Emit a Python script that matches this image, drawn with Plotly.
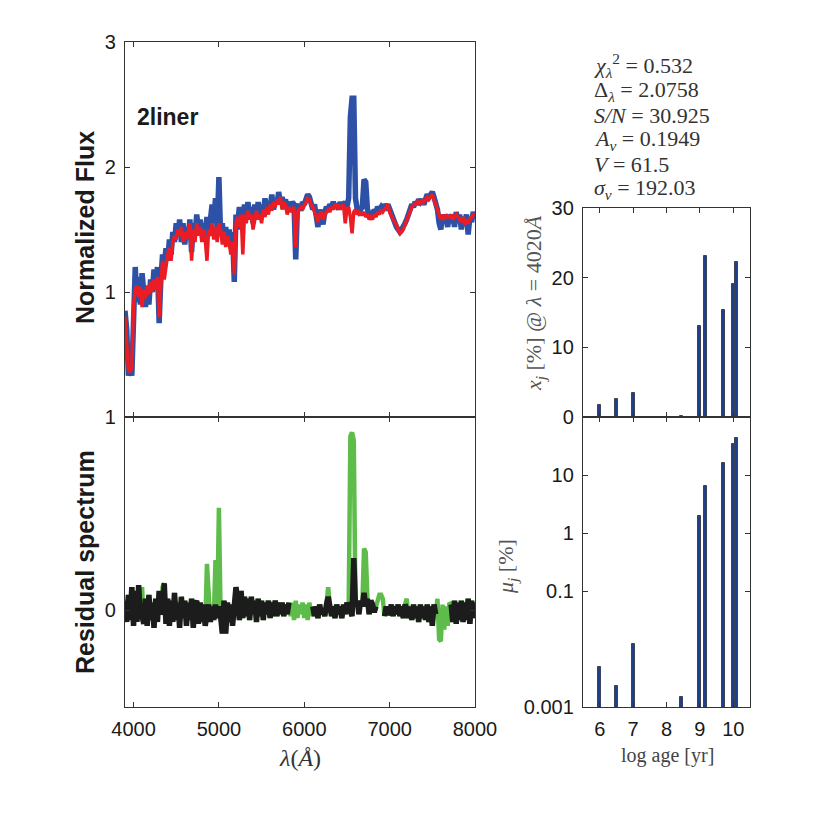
import numpy as np
import plotly.graph_objects as go

# ---------------- data ----------------
wavelength = list(range(3900, 8001, 20))  # 206 samples

flux_observed = [
    0.85, 0.70, 0.33, 0.40, 0.33, 0.95, 1.20, 0.92, 1.12, 0.90,   # 3900
    1.15, 1.00, 0.88, 1.05, 0.90, 1.10, 1.00, 1.18, 1.05, 1.20,   # 4100
    0.75, 1.10, 1.30, 1.22, 1.35, 1.25, 1.42, 1.30, 1.48, 1.40,   # 4300
    1.55, 1.45, 1.58, 1.40, 1.55, 1.38, 1.52, 1.42, 1.58, 1.32,   # 4500
    1.55, 1.45, 1.62, 1.50, 1.58, 1.45, 1.55, 1.48, 1.60, 1.45,   # 4700
    1.62, 1.70, 1.55, 1.75, 1.50, 1.92, 1.45, 1.55, 1.40, 1.52,   # 4900
    1.38, 1.50, 1.35, 1.48, 1.08, 1.62, 1.55, 1.68, 1.50, 1.58,   # 5100
    1.70, 1.62, 1.72, 1.60, 1.68, 1.55, 1.70, 1.62, 1.72, 1.60,   # 5300
    1.70, 1.62, 1.75, 1.65, 1.72, 1.68, 1.78, 1.66, 1.75, 1.70,   # 5500
    1.80, 1.72, 1.76, 1.70, 1.74, 1.66, 1.72, 1.68, 1.72, 1.70,   # 5700
    1.26, 1.68, 1.70, 1.65, 1.72, 1.70, 1.74, 1.78, 1.76, 1.72,   # 5900
    1.66, 1.70, 1.62, 1.52, 1.66, 1.60, 1.54, 1.64, 1.68, 1.66,   # 6100
    1.70, 1.68, 1.72, 1.68, 1.70, 1.66, 1.72, 1.68, 1.70, 1.72,   # 6300
    1.68, 1.75, 2.40, 2.55, 2.55, 1.75, 1.66, 1.64, 1.66, 1.68,   # 6500
    1.90, 1.88, 1.66, 1.62, 1.64, 1.60, 1.66, 1.64, 1.68, 1.66,   # 6700
    1.68, 1.66, 1.70, 1.68, 1.70, 1.66, 1.62, 1.58, 1.55, 1.52,   # 6900
    1.50, 1.48, 1.50, 1.52, 1.55, 1.58, 1.62, 1.66, 1.70, 1.68,   # 7100
    1.72, 1.70, 1.74, 1.72, 1.74, 1.70, 1.76, 1.78, 1.76, 1.78,   # 7300
    1.80, 1.76, 1.72, 1.66, 1.55, 1.50, 1.62, 1.55, 1.60, 1.52,   # 7500
    1.62, 1.55, 1.62, 1.52, 1.64, 1.56, 1.62, 1.50, 1.60, 1.55,   # 7700
    1.62, 1.46, 1.60, 1.56, 1.64, 1.60,                           # 7900
]

flux_model = [
    0.80, 0.62, 0.38, 0.36, 0.40, 0.90, 1.02, 1.05, 0.96, 1.04,
    0.88, 1.02, 0.95, 1.05, 0.98, 1.08, 1.00, 1.10, 1.02, 1.12,
    0.80, 1.05, 1.25, 1.10, 1.22, 1.30, 1.35, 1.25, 1.40, 1.45,
    1.42, 1.50, 1.45, 1.52, 1.40, 1.48, 1.42, 1.50, 1.55, 1.25,
    1.50, 1.40, 1.55, 1.45, 1.52, 1.40, 1.50, 1.42, 1.25, 1.50,
    1.45, 1.55, 1.42, 1.52, 1.40, 1.55, 1.50, 1.38, 1.48, 1.36,
    1.45, 1.40, 1.30, 1.40, 1.14, 1.55, 1.60, 1.52, 1.62, 1.30,
    1.62, 1.55, 1.65, 1.58, 1.62, 1.50, 1.60, 1.65, 1.58, 1.62,
    1.55, 1.66, 1.60, 1.68, 1.62, 1.70, 1.65, 1.72, 1.68, 1.74,
    1.70, 1.76, 1.66, 1.72, 1.70, 1.62, 1.68, 1.64, 1.66, 1.68,
    1.36, 1.64, 1.66, 1.68, 1.66, 1.70, 1.72, 1.75, 1.74, 1.70,
    1.68, 1.64, 1.60, 1.56, 1.62, 1.64, 1.58, 1.62, 1.64, 1.66,
    1.64, 1.68, 1.66, 1.70, 1.68, 1.70, 1.66, 1.68, 1.70, 1.55,
    1.66, 1.68, 1.60, 1.47, 1.64, 1.66, 1.62, 1.64, 1.62, 1.62,
    1.64, 1.60, 1.62, 1.58, 1.60, 1.58, 1.62, 1.60, 1.64, 1.62,
    1.66, 1.64, 1.66, 1.68, 1.70, 1.64, 1.60, 1.58, 1.56, 1.54,
    1.50, 1.47, 1.48, 1.50, 1.54, 1.58, 1.62, 1.64, 1.68, 1.70,
    1.70, 1.72, 1.72, 1.70, 1.74, 1.72, 1.74, 1.76, 1.74, 1.76,
    1.78, 1.74, 1.70, 1.64, 1.60, 1.58, 1.60, 1.58, 1.62, 1.60,
    1.60, 1.62, 1.58, 1.60, 1.62, 1.60, 1.58, 1.56, 1.60, 1.54,
    1.58, 1.55, 1.58, 1.60, 1.62, 1.62,
]

# residual including masked / flagged pixels (green)
residual_all = [
    0.05, -0.06, 0.08, -0.05, 0.12, -0.08, 0.10, -0.06, 0.13, -0.04,
    0.12, -0.07, 0.06, -0.08, 0.08, -0.05, 0.04, -0.09, 0.06, -0.06,
    0.10, -0.02, 0.12, 0.14, -0.07, 0.06, -0.08, 0.05, -0.06, 0.09,
    -0.05, 0.04, -0.09, 0.07, -0.04, 0.05, -0.08, 0.04, -0.05, 0.06,
    -0.09, 0.03, 0.05, -0.07, 0.04, -0.06, 0.03, -0.08, 0.24, 0.03,
    -0.06, 0.02, -0.05, 0.26, -0.04, 0.53, -0.03, -0.12, 0.05, -0.12,
    0.04, -0.06, 0.03, -0.08, 0.02, 0.12, 0.05, -0.05, 0.10, -0.04,
    0.07, -0.03, 0.06, -0.05, 0.07, -0.02, 0.05, -0.06, 0.06, -0.03,
    0.05, -0.05, 0.04, -0.02, 0.05, -0.04, 0.04, -0.03, 0.05, -0.03,
    0.04, -0.02, 0.04, -0.03, 0.03, -0.02, 0.04, -0.03, 0.04, -0.05,
    0.05, -0.04, 0.03, -0.02, 0.04, -0.04, 0.03, -0.05, 0.04, -0.03,
    0.02, -0.03, 0.02, -0.04, 0.03, -0.02, 0.01, -0.03, 0.03, 0.12,
    0.02, -0.03, 0.02, -0.04, 0.03, -0.02, 0.02, -0.04, 0.03, -0.02,
    0.04, 0.01, 0.90, 0.92, 0.88, 0.02, 0.05, -0.02, 0.05, 0.02,
    0.32, 0.30, 0.06, -0.02, 0.05, 0.03, -0.01, 0.02, 0.04, 0.08,
    0.08, 0.06, -0.03, 0.02, -0.02, -0.01, 0.03, -0.03, 0.02, -0.02,
    0.03, -0.03, 0.02, -0.04, 0.03, 0.06, -0.04, 0.02, -0.05, 0.03,
    -0.04, 0.02, -0.06, 0.03, -0.04, 0.02, -0.05, 0.03, -0.06, 0.02,
    -0.08, 0.03, -0.02, 0.06, -0.15, -0.16, 0.03, -0.10, 0.02, -0.08,
    0.04, 0.03, -0.06, 0.05, -0.07, 0.04, -0.05, 0.05, -0.06, 0.04,
    -0.05, 0.06, -0.07, 0.05, -0.04, 0.04,
]

# residual over fitted pixels only (black)
residual_fit = [
    0.05, -0.06, 0.08, -0.05, 0.12, -0.08, 0.10, -0.06, 0.13, -0.04,
    -0.03, -0.07, 0.06, -0.08, 0.08, -0.05, 0.04, -0.09, 0.06, -0.06,
    0.10, -0.02, 0.00, 0.14, -0.07, 0.06, -0.08, 0.05, -0.06, 0.09,
    -0.05, 0.04, -0.09, 0.07, -0.04, 0.05, -0.08, 0.04, -0.05, 0.06,
    -0.09, 0.03, 0.05, -0.07, 0.04, -0.06, 0.03, -0.08, -0.02, 0.03,
    -0.06, 0.02, -0.05, 0.03, -0.04, 0.02, -0.03, -0.12, 0.05, -0.12,
    0.04, -0.06, 0.03, -0.08, 0.02, 0.12, 0.05, -0.05, 0.10, -0.04,
    0.07, -0.03, 0.06, -0.05, 0.07, -0.02, 0.05, -0.06, 0.06, -0.03,
    0.05, -0.05, 0.04, -0.02, 0.05, -0.04, 0.04, -0.03, 0.05, -0.03,
    0.04, -0.02, 0.04, -0.03, 0.03, -0.02, 0.04, None, None, None,
    None, None, None, None, None, None, None, None, None, None,
    0.02, -0.03, 0.02, -0.04, 0.03, -0.02, 0.01, -0.03, 0.03, 0.07,
    0.02, -0.03, 0.02, -0.04, 0.03, -0.02, 0.02, -0.04, 0.03, -0.02,
    0.04, 0.01, -0.02, -0.03, 0.27, 0.02, 0.05, -0.02, 0.05, 0.02,
    0.09, 0.02, 0.06, -0.02, 0.05, 0.03, -0.01, 0.02, None, None,
    None, None, -0.03, 0.02, -0.02, -0.01, 0.03, -0.03, 0.02, -0.02,
    0.03, -0.03, 0.02, -0.04, 0.03, 0.01, -0.04, 0.02, -0.05, 0.03,
    -0.04, 0.02, -0.06, 0.03, -0.04, 0.02, -0.05, 0.03, -0.06, 0.02,
    -0.08, 0.03, -0.02, None, None, None, None, None, None, None,
    None, 0.03, -0.06, 0.05, -0.07, 0.04, -0.05, 0.05, -0.06, 0.04,
    -0.05, 0.06, -0.07, 0.05, -0.04, 0.04,
]

log_age = [6.0, 6.5, 7.0, 8.45, 9.0, 9.18, 9.72, 10.0, 10.09]
x_j = [1.7, 2.6, 3.5, 0.1, 13.1, 23.1, 15.4, 19.1, 22.3]
mu_j = [0.0049, 0.0023, 0.0123, 0.0015, 1.95, 6.4, 16.0, 34.0, 43.0]

fit_stats = [
    "<i>χ</i><sub><i>λ</i></sub><sup>2</sup> = 0.532",
    "Δ<sub><i>λ</i></sub> = 2.0758",
    "<i>S/N</i> = 30.925",
    "<i>A<sub>v</sub></i> = 0.1949",
    "<i>V</i> = 61.5",
    "<i>σ<sub>v</sub></i> = 192.03",
]

# ---------------- figure ----------------
W = H = 834
SANS = "Liberation Sans, Arial, sans-serif"
SERIF = "Liberation Serif, Times New Roman, serif"

def px(x):
    return x / W

def py(y):
    return 1 - y / H

fig = go.Figure()

fig.add_trace(go.Scatter(x=wavelength, y=flux_observed, mode="lines",
                         line=dict(color="#2d51a6", width=5.5), xaxis="x", yaxis="y"))
fig.add_trace(go.Scatter(x=wavelength, y=flux_model, mode="lines",
                         line=dict(color="#ec1c24", width=3.5), xaxis="x", yaxis="y"))

fig.add_trace(go.Scatter(x=wavelength, y=residual_all, mode="lines",
                         line=dict(color="#5ebd4a", width=4.5), xaxis="x2", yaxis="y2"))
fig.add_trace(go.Scatter(x=wavelength, y=residual_fit, mode="lines",
                         line=dict(color="#1c1c1c", width=5.5), xaxis="x2", yaxis="y2"))

bar_style = dict(color="#1f3f91", line=dict(color="#3b4252", width=1))
fig.add_trace(go.Bar(x=log_age, y=x_j, width=0.09, marker=bar_style,
                     xaxis="x3", yaxis="y3"))
fig.add_trace(go.Bar(x=log_age, y=mu_j, width=0.09, marker=bar_style,
                     xaxis="x4", yaxis="y4"))

axis_common = dict(showgrid=False, zeroline=False, showline=True, mirror="ticks",
                   automargin=False,
                   linecolor="#333333", linewidth=1.3, ticks="inside", ticklen=5,
                   tickcolor="#333333", tickfont=dict(family=SANS, size=20, color="#1a1a1a"))

left_dom = [px(125), px(475)]
right_dom = [px(583), px(750)]

fig.update_layout(
    template="none",
    width=W, height=H, margin=dict(l=0, r=0, t=0, b=0, pad=0, autoexpand=False),
    paper_bgcolor="white", plot_bgcolor="white", showlegend=False,
    bargap=0,
    xaxis=dict(axis_common, domain=left_dom, range=[3900, 8000], anchor="y",
               tickvals=[4000, 5000, 6000, 7000, 8000], showticklabels=False),
    yaxis=dict(axis_common, domain=[py(417), py(42)], range=[0, 3], anchor="x",
               tickvals=[1, 2, 3], ticklabelstandoff=4),
    xaxis2=dict(axis_common, domain=left_dom, range=[3900, 8000], anchor="y2",
                tickvals=[4000, 5000, 6000, 7000, 8000], ticklabelstandoff=4),
    yaxis2=dict(axis_common, domain=[py(707), py(417)], range=[-0.5, 1], anchor="x2",
                tickvals=[0, 1], ticklabelstandoff=4),
    xaxis3=dict(axis_common, domain=right_dom, range=[5.5, 10.5], anchor="y3",
                tickvals=[6, 7, 8, 9, 10], showticklabels=False),
    yaxis3=dict(axis_common, domain=[py(417), py(208)], range=[0, 30], anchor="x3",
                tickvals=[0, 10, 20, 30], ticklabelstandoff=4),
    xaxis4=dict(axis_common, domain=right_dom, range=[5.5, 10.5], anchor="y4",
                tickvals=[6, 7, 8, 9, 10], ticklabelstandoff=4),
    yaxis4=dict(axis_common, domain=[py(707), py(417)], type="log", range=[-3, 2],
                anchor="x4", tickvals=[0.001, 0.1, 1, 10],
                ticktext=["0.001", "0.1", "1", "10"], ticklabelstandoff=4),
)

annotations = [
    dict(text="<b>2liner</b>", x=px(135), y=py(117), xanchor="left", yanchor="middle",
         font=dict(family=SANS, size=23, color="#1a1a1a")),
    dict(text="<b>Normalized Flux</b>", x=px(85), y=py(228), textangle=-90,
         xanchor="center", yanchor="middle", font=dict(family=SANS, size=25, color="#1a1a1a")),
    dict(text="<b>Residual spectrum</b>", x=px(85), y=py(562), textangle=-90,
         xanchor="center", yanchor="middle", font=dict(family=SANS, size=25, color="#1a1a1a")),
    dict(text="<i>λ</i>(<i>Å</i>)", x=px(300), y=py(758), xanchor="center", yanchor="middle",
         font=dict(family=SERIF, size=24, color="#333333")),
    dict(text="log age [yr]", x=px(667), y=py(755), xanchor="center", yanchor="middle",
         font=dict(family=SERIF, size=20, color="#444444")),
    dict(text="<i>x<sub>j</sub></i> [%] @ <i>λ</i> = 4020<i>Å</i>", x=px(535), y=py(303),
         textangle=-90, xanchor="center", yanchor="middle",
         font=dict(family=SERIF, size=22, color="#555555")),
    dict(text="<i>μ<sub>j</sub></i> [%]", x=px(507), y=py(567), textangle=-90,
         xanchor="center", yanchor="middle", font=dict(family=SERIF, size=22, color="#555555")),
]
for i, line in enumerate(fit_stats):
    annotations.append(dict(text=line, x=px(592), y=py(66 + 24.6 * i), xanchor="left",
                            yanchor="middle", font=dict(family=SERIF, size=22, color="#333333")))

for a in annotations:
    a.update(xref="paper", yref="paper", showarrow=False)
fig.update_layout(annotations=annotations)

fig.write_html("out.html")
